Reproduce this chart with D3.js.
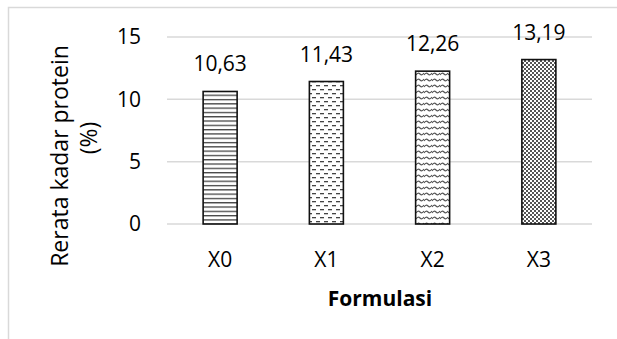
<!DOCTYPE html>
<html><head><meta charset="utf-8">
<script src="https://cdn.jsdelivr.net/npm/d3@7"></script>
<style>body{margin:0;background:#fff}svg{display:block}text{font-family:"Open Sans",sans-serif}</style>
</head><body>
<svg id="c" width="617" height="339"></svg>
<script>
const categories = ["X0","X1","X2","X3"];
const values = [10.63, 11.43, 12.26, 13.19];
const valueLabels = ["10,63","11,43","12,26","13,19"];
const yTicks = [0,5,10,15];
const xTitle = "Formulasi";
const yTitle = ["Rerata kadar protein","(%)"];

const FS = 21;
const svg = d3.select("#c");
const defs = svg.append("defs");

// Patterns
const p0 = defs.append("pattern").attr("id","p0").attr("patternUnits","userSpaceOnUse").attr("width",8).attr("height",4.3);
p0.append("rect").attr("width",8).attr("height",4.3).attr("fill","#fff");
p0.append("rect").attr("y",0).attr("width",8).attr("height",1.3).attr("fill","#444");

const p1 = defs.append("pattern").attr("id","p1").attr("patternUnits","userSpaceOnUse").attr("width",8).attr("height",8);
p1.append("rect").attr("width",8).attr("height",8).attr("fill","#fff");
p1.append("rect").attr("x",0).attr("y",1).attr("width",4).attr("height",1.3).attr("fill","#444");
p1.append("rect").attr("x",4).attr("y",5).attr("width",4).attr("height",1.3).attr("fill","#444");

const p2 = defs.append("pattern").attr("id","p2").attr("patternUnits","userSpaceOnUse").attr("width",8).attr("height",6);
p2.append("rect").attr("width",8).attr("height",6).attr("fill","#fff");
p2.append("path").attr("d","M0,3 Q2,0 4,2 Q6,4 8,1").attr("fill","none").attr("stroke","#555").attr("stroke-width",1.2);

const p3 = defs.append("pattern").attr("id","p3").attr("patternUnits","userSpaceOnUse").attr("width",4).attr("height",4);
p3.append("rect").attr("width",4).attr("height",4).attr("fill","#fff");
p3.append("rect").attr("x",0).attr("y",0).attr("width",2).attr("height",2).attr("fill","#555");
p3.append("rect").attr("x",2).attr("y",2).attr("width",2).attr("height",2).attr("fill","#555");
const fills = ["url(#p0)","url(#p1)","url(#p2)","url(#p3)"];

// chart border
svg.append("rect").attr("x",8.5).attr("y",7.5).attr("width",640).attr("height",360)
  .attr("fill","none").attr("stroke","#d9d9d9").attr("stroke-width",1.5);

const x = d3.scaleBand().domain(categories).range([167,592]);
const y = d3.scaleLinear().domain([0,15]).range([224,37]);

// gridlines
svg.append("g").selectAll("line").data(yTicks).join("line")
  .attr("x1",167).attr("x2",592).attr("y1",d=>y(d)).attr("y2",d=>y(d))
  .attr("stroke","#d9d9d9").attr("stroke-width",1.5);

// y axis labels
const yAxis = d3.axisLeft(y).tickValues(yTicks).tickSize(0).tickPadding(0).tickFormat(d3.format("d"));
const ya = svg.append("g").attr("transform","translate(141,0)").call(yAxis);
ya.select(".domain").remove();
ya.selectAll("text").attr("font-size",FS).attr("fill","#000").style("font-family","Open Sans");

// bars
const bw = 34;
svg.append("g").selectAll("rect").data(values).join("rect")
  .attr("x",(d,i)=>x(categories[i])+x.bandwidth()/2-bw/2)
  .attr("y",d=>y(d)).attr("width",bw).attr("height",d=>y(0)-y(d))
  .attr("fill",(d,i)=>fills[i]).attr("stroke","#111").attr("stroke-width",1.6);

// value labels
svg.append("g").selectAll("text").data(values).join("text")
  .attr("x",(d,i)=>x(categories[i])+x.bandwidth()/2).attr("y",d=>y(d)-20)
  .attr("text-anchor","middle").attr("font-size",FS).attr("fill","#000")
  .text((d,i)=>valueLabels[i]);

// x labels
const xAxis = d3.axisBottom(x).tickSize(0).tickPadding(0);
const xa = svg.append("g").attr("transform","translate(0,252)").call(xAxis);
xa.select(".domain").remove();
xa.selectAll("text").attr("font-size",FS).attr("fill","#000").style("font-family","Open Sans");

// x title
svg.append("text").attr("x",380).attr("y",306).attr("text-anchor","middle")
  .attr("font-size",FS).attr("font-weight","bold").text(xTitle);

// y title
const yt = svg.append("text").attr("transform","rotate(-90)").attr("text-anchor","middle").attr("font-size",23);
yt.append("tspan").attr("x",-156).attr("y",68).text(yTitle[0]);
yt.append("tspan").attr("x",-138).attr("y",97).text(yTitle[1]);
</script>
</body></html>
